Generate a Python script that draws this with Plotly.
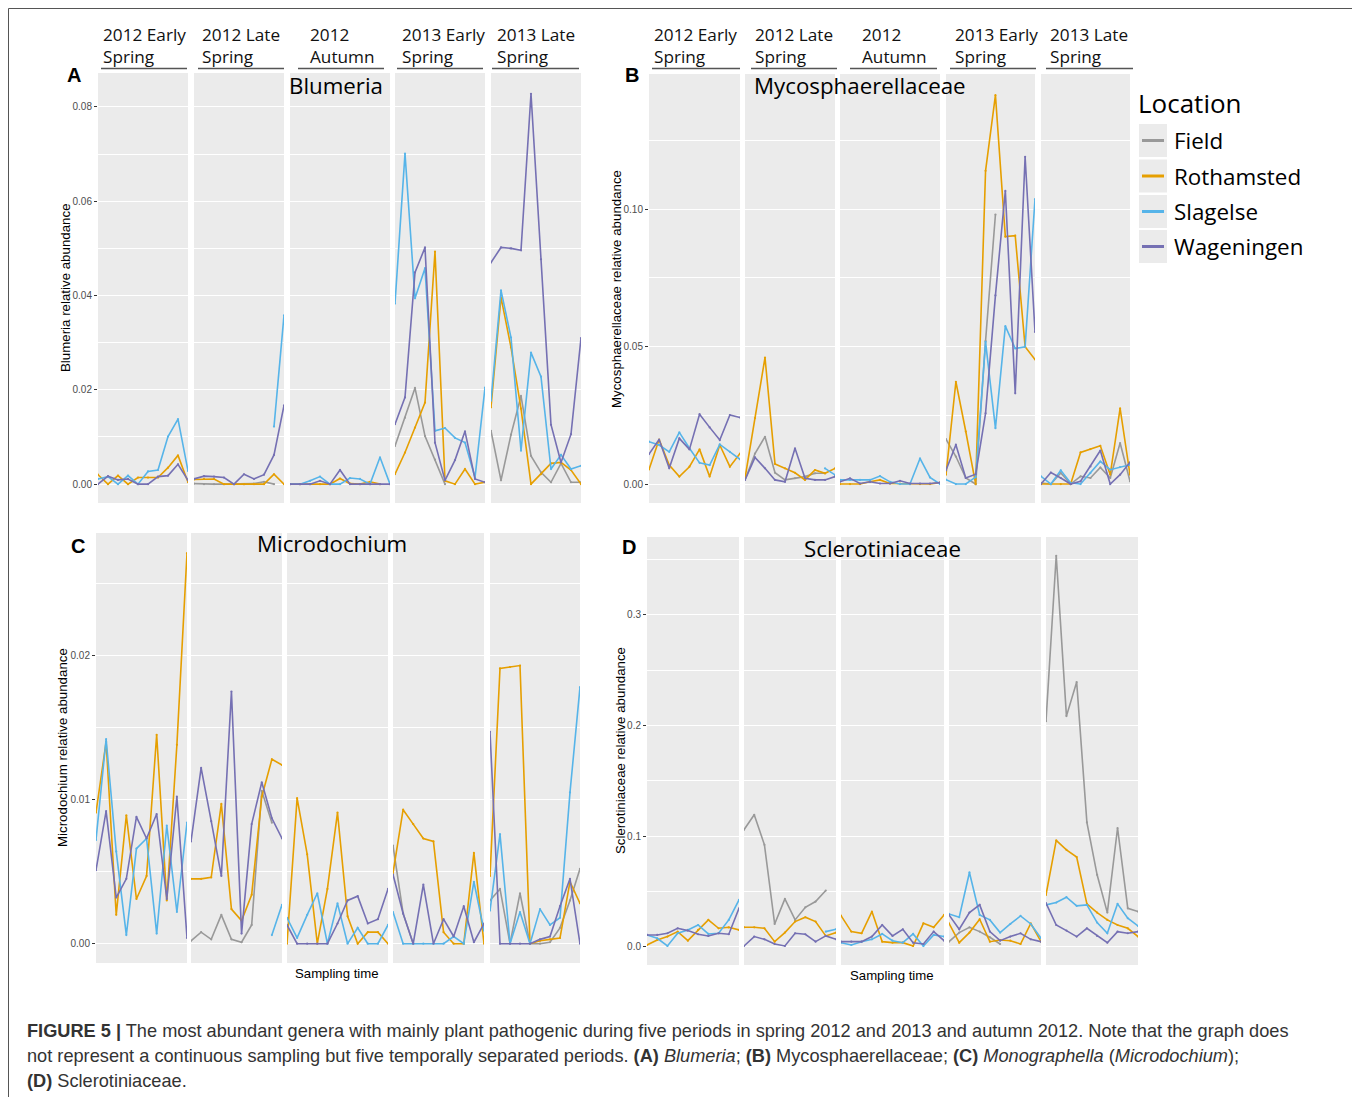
import plotly.graph_objects as go

# The page body has an 8px default margin, so the figure is sized to fill the rest of the window.
OFF = 8
W, H = 1360 - OFF, 1097 - OFF

PERIODS = ["2012 Early<br>Spring", "2012 Late<br>Spring", "2012<br>Autumn",
           "2013 Early<br>Spring", "2013 Late<br>Spring"]
N_POINTS = [10, 10, 11, 10, 10]
LOCATIONS = ["Field", "Rothamsted", "Slagelse", "Wageningen"]
COLORS = ["#999999", "#E69F00", "#56B4E9", "#7570B3"]
TAXA = ["Blumeria", "Mycosphaerellaceae", "Microdochium", "Sclerotiniaceae"]
N = None

# ---- Panel A: Blumeria ----
BLU_FIELD = [[N]*10,
             [0.0001, 0, 0, 0, 0, 0, 0.0001, 0.0005, 0, N],
             [N]*11,
             [0.0081, 0.0141, 0.0204, 0.0102, 0.0052, 0.0, N, N, N, N],
             [0.0113, 0.0008, 0.0105, 0.0187, 0.0060, 0.0025, 0.0004, 0.0044, 0.0004, 0.0004]]
BLU_ROTH = [[0.0020, 0.0, 0.0018, 0.0, 0.0014, 0.0014, 0.0014, 0.0035, 0.0061, 0.0004],
            [0.0010, 0.0011, 0.0011, 0.0, 0.0, 0.0, 0.0, 0.0, 0.0021, 0.0],
            [0, 0, 0, 0, 0, 0.0012, 0.0001, 0, 0.0005, 0, N],
            [0.0021, 0.0067, 0.0120, 0.0173, 0.0493, 0.0007, 0.0, 0.0032, 0.0, 0.0004],
            [0.0163, 0.0396, 0.0290, 0.0160, 0.0, 0.0021, 0.0044, 0.0046, 0.0030, 0.0]]
BLU_SLAG = [[0.0011, 0.0016, 0.0, 0.0018, 0.0, 0.0027, 0.0030, 0.0101, 0.0138, 0.0028],
            [N]*8 + [0.0122, 0.0358],
            [0, 0, 0.0007, 0.0016, 0, 0, 0.0013, 0.0011, 0.0, 0.0057, 0.0],
            [0.0383, 0.0701, 0.0394, 0.0458, 0.0113, 0.0119, 0.0098, 0.0088, 0.0014, 0.0205],
            [0.0177, 0.0411, 0.0311, 0.0071, 0.0279, 0.0228, 0.0032, 0.0062, 0.0032, 0.0039]]
BLU_WAGE = [[0.0, 0.0017, 0.0009, 0.0011, 0.0, 0.0, 0.0016, 0.0018, 0.0042, 0.0008],
            [0.0011, 0.0017, 0.0016, 0.0014, 0.0, 0.0021, 0.0011, 0.0020, 0.0062, 0.0167],
            [0, 0, 0, 0.0007, 0, 0.0030, 0, 0, 0, 0, 0],
            [0.0127, 0.0184, 0.0449, 0.0502, 0.0088, 0.0008, 0.0051, 0.0112, 0.0011, 0.0004],
            [0.0470, 0.0502, 0.0500, 0.0496, 0.0828, 0.0477, 0.0126, 0.0046, 0.0106, 0.0310]]

# ---- Panel B: Mycosphaerellaceae ----
MYC_FIELD = [[N]*10,
             [0.0015, 0.0111, 0.0172, 0.0041, 0.0015, 0.0021, 0.0027, 0.0039, 0.0039, N],
             [N]*11,
             [0.0163, 0.0100, 0.0022, 0.0, 0.052, 0.098, N, N, N, N],
             [0.0004, 0.0, 0.0040, 0.0, 0.0028, 0.0022, 0.0060, 0.0022, 0.0149, 0.0010]]
MYC_ROTH = [[0.0053, 0.0162, 0.0069, 0.0027, 0.0063, 0.0126, 0.0027, 0.0142, 0.0063, 0.0111],
            [0.0021, 0.0240, 0.0460, 0.0073, 0.0057, 0.0041, 0.0015, 0.0051, 0.0039, 0.0057],
            [0, 0, 0, 0.0008, 0.0015, 0.0002, 0.0002, 0, 0, 0, 0.0005],
            [0.0034, 0.0372, 0.0191, 0.0, 0.1139, 0.1414, 0.0900, 0.0903, 0.0499, 0.0453],
            [0.0, 0.0, 0.0, 0.0, 0.0115, 0.0127, 0.0139, 0.0034, 0.0275, 0.0034]]
MYC_SLAG = [[0.0154, 0.0142, 0.0117, 0.0188, 0.0130, 0.0077, 0.0069, 0.0144, 0.0117, 0.0090],
            [N]*8 + [0.0057, 0.0033],
            [0.0015, 0.0015, 0.0015, 0.0015, 0.0029, 0.0008, 0, 0, 0.0093, 0.0024, 0],
            [0.0016, 0.0, 0.0, 0.0025, 0.0517, 0.0203, 0.0574, 0.0493, 0.0499, 0.1036],
            [0.0028, 0.0, 0.0050, 0.0004, 0.0, 0.0040, 0.0082, 0.0052, 0.0062, 0.0070]]
MYC_WAGE = [[0.0109, 0.0162, 0.0057, 0.0166, 0.0126, 0.0254, 0.0206, 0.0160, 0.0251, 0.0242],
            [0.0015, 0.0097, 0.0057, 0.0015, 0.0008, 0.0130, 0.0021, 0.0015, 0.0015, 0.0027],
            [0.0008, 0.0021, 0.0002, 0.0008, 0.0002, 0.0002, 0.0012, 0.0002, 0.0002, 0.0002, 0.0005],
            [0.0050, 0.0143, 0.0022, 0.0036, 0.0257, 0.0686, 0.1066, 0.0330, 0.1190, 0.0553],
            [0.0, 0.0042, 0.0022, 0.0, 0.0010, 0.0064, 0.0122, 0.0, 0.0034, 0.0079]]

# ---- Panel C: Microdochium ----
MIC_FIELD = [[N]*10,
             [0.0002, 0.0008, 0.0003, 0.0020, 0.0003, 0.0001, 0.0013, 0.0106, 0.0084, N],
             [N]*11,
             [0.0068, 0.0021, 0.0, N, N, N, N, N, N, N],
             [0.0030, 0.0038, 0.0, 0.0035, 0.0, 0.0, 0.0001, 0.0011, 0.0030, 0.0052]]
MIC_ROTH = [[0.0091, 0.0140, 0.0020, 0.0089, 0.0031, 0.0047, 0.0145, 0.0030, 0.0138, 0.0271],
            [0.0045, 0.0045, 0.0046, 0.0097, 0.0024, 0.0016, 0.0034, 0.0102, 0.0128, 0.0124],
            [0.0, 0.0101, 0.0062, 0.0, 0.0038, 0.0091, 0.0019, 0.0, 0.0008, 0.0008, 0.0],
            [0.0049, 0.0093, 0.0083, 0.0073, 0.0071, 0.0008, 0.0, 0.0, 0.0063, 0.0],
            [0.0047, 0.0191, 0.0192, 0.0193, 0.0, 0.0002, 0.0003, 0.0004, 0.0043, 0.0028]]
MIC_SLAG = [[0.0072, 0.0142, 0.0064, 0.0006, 0.0066, 0.0073, 0.0007, 0.0082, 0.0022, 0.0084],
            [N]*8 + [0.0006, 0.0027],
            [0.0018, 0.0004, 0.0020, 0.0035, 0.0, 0.0028, 0.0, 0.0011, 0.0, 0.0, 0.0013],
            [0.0022, 0, 0, 0, 0, 0, 0.0005, 0, 0.0043, 0.0009],
            [0.0023, 0.0076, 0.0, 0.0022, 0.0, 0.0024, 0.0013, 0.0018, 0.0105, 0.0178]]
MIC_WAGE = [[0.0051, 0.0092, 0.0032, 0.0045, 0.0088, 0.0073, 0.0090, 0.0031, 0.0102, 0.0004],
            [0.0071, 0.0122, 0.0085, 0.0047, 0.0175, 0.0007, 0.0083, 0.0112, 0.0087, 0.0073],
            [0.0013, 0, 0, 0, 0, 0.0014, 0.0030, 0.0033, 0.0014, 0.0017, 0.0038],
            [0.0048, 0.0021, 0.0, 0.0041, 0.0, 0.0017, 0.0005, 0.0026, 0.0001, 0.0014],
            [0.0147, 0.0, 0.0, 0.0, 0.0, 0.0003, 0.0005, 0.0026, 0.0045, 0.0]]

# ---- Panel D: Sclerotiniaceae ----
SCL_FIELD = [[N]*10,
             [0.1057, 0.1193, 0.0921, 0.0205, 0.0432, 0.0242, 0.0356, 0.0408, 0.0508, N],
             [N]*11,
             [0.0045, 0.0127, 0.0175, 0.0136, 0.0085, 0.0024, N, N, N, N],
             [0.2039, 0.3535, 0.2085, 0.2393, 0.1124, 0.0650, 0.0308, 0.1073, 0.0347, 0.0317]]
SCL_ROTH = [[0.0015, 0.0060, 0.0091, 0.0136, 0.0054, 0.0151, 0.0242, 0.0166, 0.0175, 0.0151],
            [0.0175, 0.0175, 0.0166, 0.0045, 0.0127, 0.0227, 0.0266, 0.0227, 0.0097, 0.0127],
            [0.0281, 0.0136, 0.0121, 0.0317, 0.0045, 0.0036, 0.0036, 0.0006, 0.0211, 0.0175, 0.0287],
            [0.0211, 0.0036, 0.0127, 0.0248, 0.0045, 0.0060, 0.0054, 0.0024, 0.0211, 0.0045],
            [0.0468, 0.0961, 0.0876, 0.0810, 0.0387, 0.0308, 0.0242, 0.0196, 0.0166, 0.0091]]
SCL_SLAG = [[0.0106, 0.0076, 0.0006, 0.0121, 0.0151, 0.0196, 0.0115, 0.0121, 0.0242, 0.0423],
            [N]*8 + [0.0136, 0.0157],
            [0.0036, 0.0015, 0.0045, 0.0066, 0.0115, 0.0054, 0.0036, 0.0115, 0.0006, 0.0106, 0.0091],
            [0.0296, 0.0266, 0.0671, 0.0287, 0.0242, 0.0127, 0.0205, 0.0278, 0.0205, 0.0076],
            [0.0378, 0.0399, 0.0447, 0.0369, 0.0378, 0.0218, 0.0121, 0.0387, 0.0257, 0.0187]]
SCL_WAGE = [[0.0106, 0.0106, 0.0121, 0.0166, 0.0145, 0.0112, 0.0097, 0.0121, 0.0112, 0.0347],
            [0.0006, 0.0091, 0.0066, 0.0024, 0.0006, 0.0121, 0.0112, 0.0045, 0.0097, 0.0066],
            [0.0045, 0.0045, 0.0045, 0.0091, 0.0196, 0.0097, 0.0157, 0.0036, 0.0024, 0.0136, 0.0054],
            [0.0287, 0.0157, 0.0308, 0.0378, 0.0136, 0.0054, 0.0091, 0.0121, 0.0066, 0.0045],
            [0.0393, 0.0196, 0.0145, 0.0091, 0.0166, 0.0097, 0.0036, 0.0136, 0.0121, 0.0136]]

Y_TICKS_A = [0.00, 0.02, 0.04, 0.06, 0.08]
Y_TICKS_B = [0.00, 0.05, 0.10]
Y_TICKS_C = [0.00, 0.01, 0.02]
Y_TICKS_D = [0.0, 0.1, 0.2, 0.3]
Y_LABELS_A = ["0.00", "0.02", "0.04", "0.06", "0.08"]
Y_LABELS_B = ["0.00", "0.05", "0.10"]
Y_LABELS_C = ["0.00", "0.01", "0.02"]
Y_LABELS_D = ["0.0", "0.1", "0.2", "0.3"]

# ---------------- layout geometry (window pixels) ----------------
def fx(x):
    return (x - OFF) / W

def fy(y):
    return 1 - (y - OFF) / H

panels = [
    dict(series=[BLU_FIELD, BLU_ROTH, BLU_SLAG, BLU_WAGE], ticks=Y_TICKS_A, labels=Y_LABELS_A,
         minor=[0.01, 0.03, 0.05, 0.07], yr=[-0.0040, 0.0872], top=73, bot=503,
         xs=[(98, 188), (194, 284), (290, 390), (395, 485), (491, 581)],
         title_xy=(336, 85), letter="A", letter_xy=(74, 75), ytitle_xy=(65, 288)),
    dict(series=[MYC_FIELD, MYC_ROTH, MYC_SLAG, MYC_WAGE], ticks=Y_TICKS_B, labels=Y_LABELS_B,
         minor=[0.025, 0.075, 0.125], yr=[-0.0069, 0.1491], top=74, bot=503,
         xs=[(649, 740), (745, 835), (840, 940), (946, 1035), (1041, 1130)],
         title_xy=(860, 85), letter="B", letter_xy=(632, 75), ytitle_xy=(616, 289)),
    dict(series=[MIC_FIELD, MIC_ROTH, MIC_SLAG, MIC_WAGE], ticks=Y_TICKS_C, labels=Y_LABELS_C,
         minor=[0.005, 0.015, 0.025], yr=[-0.00134, 0.0285], top=533, bot=963,
         xs=[(96, 187), (191, 282), (287, 388), (393, 484), (490, 580)],
         title_xy=(332, 544), letter="C", letter_xy=(78, 546), ytitle_xy=(63, 748)),
    dict(series=[SCL_FIELD, SCL_ROTH, SCL_SLAG, SCL_WAGE], ticks=Y_TICKS_D, labels=Y_LABELS_D,
         minor=[0.05, 0.15, 0.25, 0.35], yr=[-0.0166, 0.3705], top=537, bot=965,
         xs=[(647, 739), (744, 836), (841, 944), (949, 1041), (1046, 1138)],
         title_xy=(882, 548), letter="D", letter_xy=(629, 547), ytitle_xy=(620, 751)),
]

fig = go.Figure()
layout = {}
annotations = []
shapes = []

k = 0
for pi, p in enumerate(panels):
    for fi, (x0, x1) in enumerate(p["xs"]):
        k += 1
        sfx = "" if k == 1 else str(k)
        n = N_POINTS[fi]
        layout["xaxis" + sfx] = dict(domain=[fx(x0), fx(x1)], range=[0, n - 1], anchor="y" + sfx,
                                     showgrid=False, zeroline=False, showticklabels=False,
                                     ticks="", showline=False, fixedrange=True)
        first = fi == 0
        layout["yaxis" + sfx] = dict(domain=[fy(p["bot"]), fy(p["top"])], range=p["yr"],
                                     anchor="x" + sfx, zeroline=False, showline=False,
                                     tickmode="array", tickvals=p["ticks"], ticktext=p["labels"],
                                     showticklabels=first, ticks="outside" if first else "",
                                     ticklen=3, tickwidth=1, tickcolor="#333333",
                                     tickfont=dict(family="Liberation Sans, Arial", size=10, color="#4D4D4D"),
                                     showgrid=True, gridcolor="#FFFFFF", gridwidth=1.1,
                                     minor=dict(tickmode="array", tickvals=p["minor"], showgrid=True,
                                                gridcolor="#FFFFFF", gridwidth=0.55, ticks=""),
                                     fixedrange=True)
        for li, loc in enumerate(LOCATIONS):
            yv = p["series"][li][fi]
            fig.add_trace(go.Scatter(x=list(range(n)), y=yv, mode="lines+markers",
                                     line=dict(color=COLORS[li], width=1.6),
                                     marker=dict(color=COLORS[li], size=2.2),
                                     connectgaps=False, showlegend=False, name=loc,
                                     xaxis="x" + sfx, yaxis="y" + sfx, cliponaxis=True))
    annotations.append(dict(text=TAXA[pi], x=fx(p["title_xy"][0]), y=fy(p["title_xy"][1]),
                            xref="paper", yref="paper", showarrow=False, xanchor="center",
                            yanchor="middle", font=dict(family="Open Sans", size=22.3, color="#000000")))
    annotations.append(dict(text="<b>" + p["letter"] + "</b>", x=fx(p["letter_xy"][0]),
                            y=fy(p["letter_xy"][1]), xref="paper", yref="paper", showarrow=False,
                            xanchor="center", yanchor="middle",
                            font=dict(family="Liberation Sans, Arial", size=20, color="#000000")))
    annotations.append(dict(text=TAXA[pi] + " relative abundance", x=fx(p["ytitle_xy"][0]),
                            y=fy(p["ytitle_xy"][1]), xref="paper", yref="paper", showarrow=False,
                            textangle=-90, xanchor="center", yanchor="middle",
                            font=dict(family="Liberation Sans, Arial", size=13.3, color="#000000")))

# Strip headers for panels A and B
STRIP_A_TEXT_X = [101, 200, 308, 400, 495]
STRIP_A_LINES = [(101, 187), (198, 284), (298, 384), (397, 483), (492, 579)]
STRIP_B_TEXT_X = [652, 753, 860, 953, 1048]
STRIP_B_LINES = [(652, 740), (751, 837), (850, 937), (950, 1036), (1046, 1133)]
for tx_list, ln_list in [(STRIP_A_TEXT_X, STRIP_A_LINES), (STRIP_B_TEXT_X, STRIP_B_LINES)]:
    for i, label in enumerate(PERIODS):
        annotations.append(dict(text=label, x=fx(tx_list[i]), y=fy(45), xref="paper", yref="paper",
                                showarrow=False, xanchor="left", yanchor="middle", align="left",
                                font=dict(family="Open Sans", size=17.2, color="#111111")))
        a, b = ln_list[i]
        shapes.append(dict(type="line", xref="paper", yref="paper", x0=fx(a), x1=fx(b),
                           y0=fy(68.5), y1=fy(68.5), line=dict(color="#555555", width=1.3)))

# x-axis titles
for (cx, cy) in [(337, 973), (892, 975)]:
    annotations.append(dict(text="Sampling time", x=fx(cx), y=fy(cy), xref="paper", yref="paper",
                            showarrow=False, xanchor="center", yanchor="middle",
                            font=dict(family="Liberation Sans, Arial", size=13.2, color="#000000")))

# Legend (drawn manually, ggplot style)
annotations.append(dict(text="Location", x=fx(1136), y=fy(103), xref="paper", yref="paper",
                        showarrow=False, xanchor="left", yanchor="middle",
                        font=dict(family="Open Sans", size=26, color="#000000")))
LEG_Y = [140.5, 176, 211.5, 246.5]
for li, loc in enumerate(LOCATIONS):
    cy = LEG_Y[li]
    shapes.append(dict(type="rect", xref="paper", yref="paper", x0=fx(1139), x1=fx(1167),
                       y0=fy(cy - 16.5), y1=fy(cy + 16.5), fillcolor="#EBEBEB", line=dict(width=0)))
    shapes.append(dict(type="line", xref="paper", yref="paper", x0=fx(1142), x1=fx(1164),
                       y0=fy(cy), y1=fy(cy), line=dict(color=COLORS[li], width=3)))
    annotations.append(dict(text=loc, x=fx(1172), y=fy(cy), xref="paper", yref="paper",
                            showarrow=False, xanchor="left", yanchor="middle",
                            font=dict(family="Open Sans", size=22.4, color="#000000")))

# Outer frame
shapes.append(dict(type="rect", xref="paper", yref="paper", x0=fx(8.5), x1=fx(1357),
                   y0=fy(1110), y1=fy(8.5), line=dict(color="#555555", width=1), layer="above"))

# Caption
CAPTION = [
    "<b>FIGURE 5 |</b> The most abundant genera with mainly plant pathogenic during five periods in spring 2012 and 2013 and autumn 2012. Note that the graph does",
    "not represent a continuous sampling but five temporally separated periods. <b>(A)</b> <i>Blumeria</i>; <b>(B)</b> Mycosphaerellaceae; <b>(C)</b> <i>Monographella</i> (<i>Microdochium</i>);",
    "<b>(D)</b> Sclerotiniaceae.",
]
for i, line in enumerate(CAPTION):
    annotations.append(dict(text=line, x=fx(25), y=fy(1031 + 25 * i), xref="paper", yref="paper",
                            showarrow=False, xanchor="left", yanchor="middle", align="left",
                            font=dict(family="Liberation Sans, Arial", size=18.2, color="#333333")))

fig.update_layout(width=W, height=H, margin=dict(l=0, r=0, t=0, b=0),
                  paper_bgcolor="#FFFFFF", plot_bgcolor="#EBEBEB", showlegend=False,
                  annotations=annotations, shapes=shapes, **layout)

fig.write_html("out.html")
